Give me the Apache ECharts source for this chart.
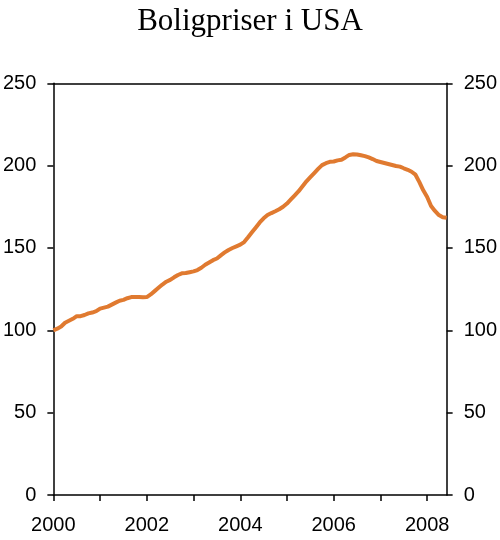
<!DOCTYPE html>
<html>
<head>
<meta charset="utf-8">
<script src="https://cdn.jsdelivr.net/npm/echarts@6/dist/echarts.min.js"></script>
<style>html,body{margin:0;padding:0;background:#fff}#c{width:500px;height:540px}</style>
</head>
<body>
<div id="c"></div>
<script>
// Monthly index, Jan 2000 = 100 (Jan 2000 .. Jun 2008)
var startYear = 2000;
var values = [
  100, 101, 102.3, 104.6, 105.8, 107, 108.6, 108.6, 109.3, 110.3, 110.8, 111.6,
  113.2, 113.8, 114.4, 115.6, 116.8, 118, 118.5, 119.5, 120.2, 120.2, 120.2, 120.1,
  120.2, 121.8, 123.8, 125.8, 127.8, 129.5, 130.6, 132.2, 133.6, 134.6, 134.8, 135.3,
  135.8, 136.6, 138, 139.8, 141.2, 142.6, 143.6, 145.5, 147.3, 148.8, 150, 151,
  152, 153.6, 156.5, 159.5, 162.5, 165.5, 168, 170, 171.2, 172.3, 173.5, 175,
  177, 179.5, 182, 184.5, 187.5, 190.5, 193, 195.5, 198, 200.3, 201.5, 202.3,
  202.5, 203.2, 203.6, 205, 206.5, 206.9, 206.8, 206.3, 205.8, 205, 204, 202.8,
  202.2, 201.6, 201, 200.4, 199.8, 199.4, 198.4, 197.5, 196.3, 194.5, 190, 185,
  181, 175.5, 172.5, 170, 168.7, 168.4
];
var categories = values.map(function (v, i) {
  return (startYear + Math.floor(i / 12)) + 'M' + (i % 12 + 1);
});
var yTicks = [0, 50, 100, 150, 200, 250];
var titleText = 'Boligpriser i USA';

var chart = echarts.init(document.getElementById('c'), null, {renderer: 'canvas'});
var axisFont = {fontFamily: 'Liberation Sans', fontSize: 20, color: '#000'};
var lineStyle = {color: '#000', width: 1.5};
var yAxisBase = function (pos) {
  return {
    type: 'value', position: pos, min: yTicks[0], max: yTicks[yTicks.length - 1],
    interval: yTicks[1] - yTicks[0],
    axisLine: {show: true, lineStyle: lineStyle},
    axisTick: {show: true, inside: false, length: 6, lineStyle: lineStyle},
    axisLabel: Object.assign({margin: 17}, axisFont),
    splitLine: {show: false}
  };
};
chart.setOption({
  animation: false,
  title: {
    text: titleText, left: 'center', top: 1,
    textStyle: {fontFamily: 'Liberation Serif', fontSize: 31, fontWeight: 'normal', color: '#000'}
  },
  grid: {left: 51.7, right: 52.3, top: 83.3, bottom: 45},
  xAxis: [{
    type: 'category', data: categories, boundaryGap: false, position: 'bottom',
    axisLine: {show: true, onZero: false, lineStyle: lineStyle},
    axisTick: {show: true, inside: false, length: 6, interval: 11, lineStyle: lineStyle},
    axisLabel: Object.assign({
      margin: 20, interval: 23,
      formatter: function (v) { return v.split('M')[0]; }
    }, axisFont),
    splitLine: {show: false}
  }, {
    type: 'category', data: categories, boundaryGap: false, position: 'top',
    axisLine: {show: true, onZero: false, lineStyle: lineStyle},
    axisTick: {show: false}, axisLabel: {show: false}, splitLine: {show: false}
  }],
  yAxis: [yAxisBase('left'), yAxisBase('right')],
  series: [{
    type: 'line', data: values, xAxisIndex: 0, yAxisIndex: 0,
    showSymbol: false, symbol: 'none',
    lineStyle: {color: '#E07A30', width: 4},
    itemStyle: {color: '#E07A30'}
  }]
});
</script>
</body>
</html>
